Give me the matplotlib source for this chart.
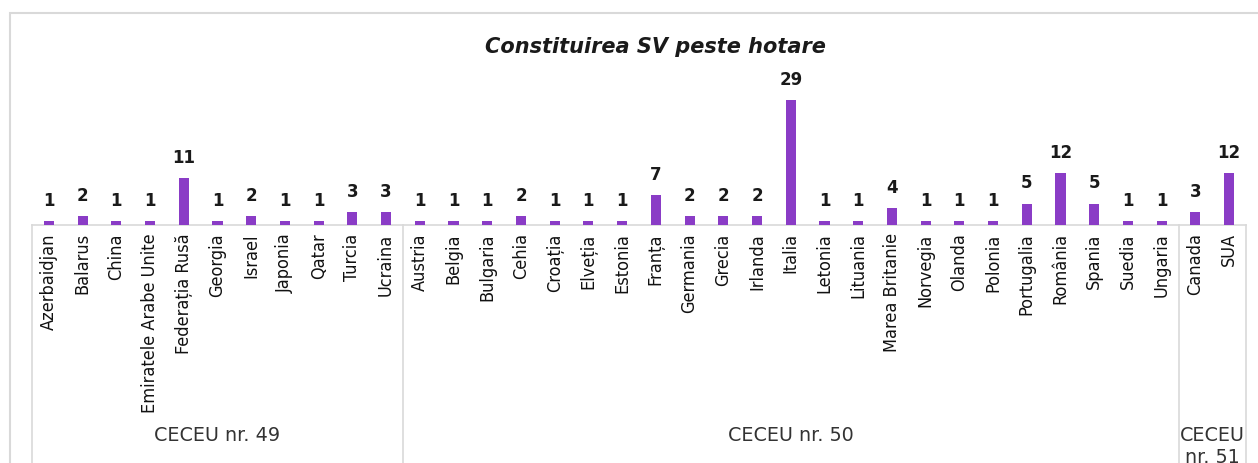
import matplotlib
matplotlib.use('Agg')
import matplotlib.pyplot as plt
from matplotlib.patches import Rectangle
from matplotlib.transforms import blended_transform_factory

# date
tari_49 = ['Azerbaidjan', 'Balarus', 'China', 'Emiratele Arabe Unite', 'Federația Rusă',
           'Georgia', 'Israel', 'Japonia', 'Qatar', 'Turcia', 'Ucraina']
valori_49 = [1, 2, 1, 1, 11, 1, 2, 1, 1, 3, 3]
tari_50 = ['Austria', 'Belgia', 'Bulgaria', 'Cehia', 'Croația', 'Elveția', 'Estonia', 'Franța',
           'Germania', 'Grecia', 'Irlanda', 'Italia', 'Letonia', 'Lituania', 'Marea Britanie',
           'Norvegia', 'Olanda', 'Polonia', 'Portugalia', 'România', 'Spania', 'Suedia', 'Ungaria']
valori_50 = [1, 1, 1, 2, 1, 1, 1, 7, 2, 2, 2, 29, 1, 1, 4, 1, 1, 1, 5, 12, 5, 1, 1]
tari_51 = ['Canada', 'SUA']
valori_51 = [3, 12]
grupe = ['CECEU nr. 49', 'CECEU nr. 50', 'CECEU\nnr. 51']

tari = tari_49 + tari_50 + tari_51
valori = valori_49 + valori_50 + valori_51
marimi = [len(tari_49), len(tari_50), len(tari_51)]

culoare = '#8a3cc6'
gri = '#d9d9d9'

fig = plt.figure(figsize=(12.58, 4.63), dpi=100)
W, H = 1258, 463

# chenarul diagramei (taiat la dreapta si jos)
fig.patches.append(Rectangle((10 / W, -0.1), 1.2, 1 - 13 / H + 0.1, transform=fig.transFigure,
                             fill=False, edgecolor=gri, linewidth=1.5))

ax = fig.add_axes([32 / W, (H - 225) / H, (1246 - 32) / W, 165 / H])
x = list(range(len(tari)))
bare = ax.bar(x, valori, width=0.3, color=culoare, zorder=3)
ax.bar_label(bare, padding=8, fontsize=12, fontweight='bold', color='#1a1a1a')

ax.set_xlim(-0.5, len(tari) - 0.5)
ax.set_ylim(0, 165 / 4.3)
ax.set_yticks([])
ax.set_xticks(x)
ax.set_xticklabels(tari, rotation=90, fontsize=13, fontstretch='condensed', color='#111111')
ax.tick_params(axis='x', length=0, pad=6)
for s in ['top', 'right', 'left']:
    ax.spines[s].set_visible(False)
ax.spines['bottom'].set_color(gri)
ax.spines['bottom'].set_linewidth(1.2)

# separatoare de grup si etichete de grup
tr = blended_transform_factory(ax.transData, fig.transFigure)
start = -0.5
limite = [start]
for m in marimi:
    start += m
    limite.append(start)
for b in limite:
    ax.plot([b, b], [0, (H - 225) / H], color=gri, linewidth=1.2, transform=tr, clip_on=False)
for i, g in enumerate(grupe):
    centru = (limite[i] + limite[i + 1]) / 2
    ax.text(centru, (H - 426) / H, g, transform=tr, ha='center', va='top',
            fontsize=13.8, color='#333333', linespacing=1.2)

fig.text(655 / W, 1 - 47 / H, 'Constituirea SV peste hotare', ha='center', va='center',
         fontsize=15, fontweight='bold', fontstyle='italic', color='#1a1a1a')

fig.savefig('out.png', dpi=100)
